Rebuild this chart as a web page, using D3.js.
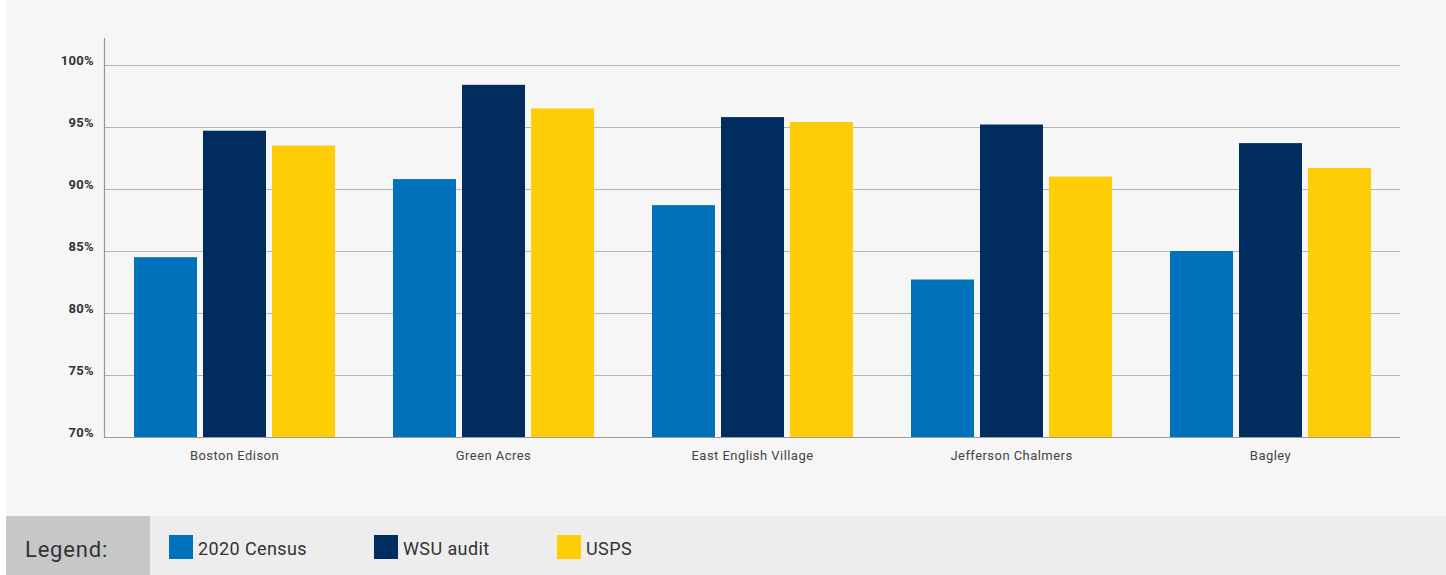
<!DOCTYPE html>
<html>
<head>
<meta charset="utf-8">
<script src="https://cdn.jsdelivr.net/npm/d3@7"></script>
<style>
  html, body { margin: 0; padding: 0; background: #ffffff; }
  svg { display: block; }
</style>
</head>
<body>
<svg id="chart" width="1446" height="575"></svg>
<script>
// Neighbourhood address coverage, by source
const neighbourhoods = ["Boston Edison", "Green Acres", "East English Village", "Jefferson Chalmers", "Bagley"];
const seriesNames = ["2020 Census", "WSU audit", "USPS"];
const census2020 = [84.5, 90.8, 88.7, 82.7, 85.0];
const wsuAudit   = [94.7, 98.4, 95.8, 95.2, 93.7];
const usps       = [93.5, 96.5, 95.4, 91.0, 91.7];
const yTicks = [70, 75, 80, 85, 90, 95, 100];
const seriesColors = ["#0072bb", "#002d5e", "#ffcd05"];

const seriesValues = [census2020, wsuAudit, usps];
const rows = neighbourhoods.map((name, i) => ({
  name,
  values: seriesNames.map((s, j) => ({ series: s, value: seriesValues[j][i], idx: j }))
}));

const svg = d3.select("#chart");
const W = 1446, H = 575;

// page backgrounds
svg.append("rect").attr("x", 6).attr("y", 0).attr("width", W - 6).attr("height", 516).attr("fill", "#f6f6f6");
svg.append("rect").attr("x", 6).attr("y", 516).attr("width", W - 6).attr("height", H - 516).attr("fill", "#ededed");
svg.append("rect").attr("x", 6).attr("y", 516).attr("width", 144).attr("height", H - 516).attr("fill", "#c6c7c9");

const plot = { left: 105, right: 1400, top: 65, bottom: 437 };

const y = d3.scaleLinear().domain([70, 100]).range([plot.bottom, plot.top]);
const x0 = d3.scaleBand().domain(neighbourhoods).range([plot.left, plot.right]).padding(0);
const x1 = d3.scaleBand().domain(seriesNames)
  .range([29, x0.bandwidth() - 29]).paddingInner(0.087).paddingOuter(0);

// horizontal gridlines
svg.append("g")
  .selectAll("line")
  .data(yTicks.filter(t => t > 70))
  .join("line")
  .attr("x1", plot.left).attr("x2", plot.right)
  .attr("y1", d => y(d) + 0.5).attr("y2", d => y(d) + 0.5)
  .attr("stroke", "#b5b5b5").attr("stroke-width", 1.2);

// y-axis labels, sitting just above their gridlines
const yAxis = d3.axisLeft(y).tickValues(yTicks).tickSize(0).tickPadding(11).tickFormat(d => d + "%");
const yg = svg.append("g").attr("transform", `translate(${plot.left},0)`).call(yAxis);
yg.select(".domain").remove();
yg.selectAll("text")
  .attr("dy", "0")
  .attr("y", -1)
  .attr("font-family", "Roboto, 'DejaVu Sans', sans-serif")
  .attr("font-size", 13).attr("font-weight", 700).attr("fill", "#333").attr("letter-spacing", 0.3);

// bars
const groups = svg.append("g")
  .selectAll("g")
  .data(rows)
  .join("g")
  .attr("transform", d => `translate(${x0(d.name)},0)`);

groups.selectAll("rect")
  .data(d => d.values)
  .join("rect")
  .attr("x", d => x1(d.series))
  .attr("width", x1.bandwidth())
  .attr("y", d => y(d.value))
  .attr("height", d => y(70) - y(d.value))
  .attr("fill", d => seriesColors[d.idx]);

// axis lines
svg.append("line")
  .attr("x1", plot.left - 0.5).attr("x2", plot.left - 0.5)
  .attr("y1", 38).attr("y2", plot.bottom + 0.5)
  .attr("stroke", "#9a9a9a").attr("stroke-width", 1.2);
svg.append("line")
  .attr("x1", plot.left - 1).attr("x2", plot.right)
  .attr("y1", plot.bottom + 0.5).attr("y2", plot.bottom + 0.5)
  .attr("stroke", "#9a9a9a").attr("stroke-width", 1.2);

// category labels
const xAxis = d3.axisBottom(x0).tickSize(0).tickPadding(14);
const xg = svg.append("g").attr("transform", `translate(0,${plot.bottom})`).call(xAxis);
xg.select(".domain").remove();
xg.selectAll("text")
  .attr("font-family", "Roboto, 'DejaVu Sans', sans-serif")
  .attr("font-size", 13).attr("fill", "#444").attr("letter-spacing", 0.45);

// legend
svg.append("text")
  .attr("x", 25).attr("y", 557)
  .attr("font-family", "Roboto, 'DejaVu Sans', sans-serif")
  .attr("font-size", 22).attr("fill", "#333").attr("letter-spacing", 0.8)
  .text("Legend:");

const legendX = [169, 374, 557];
const legend = svg.append("g")
  .selectAll("g")
  .data(seriesNames)
  .join("g")
  .attr("transform", (d, i) => `translate(${legendX[i]},535)`);
legend.append("rect").attr("width", 24).attr("height", 24).attr("fill", (d, i) => seriesColors[i]);
legend.append("text")
  .attr("x", 29).attr("y", 20)
  .attr("font-family", "Roboto, 'DejaVu Sans', sans-serif")
  .attr("font-size", 18).attr("fill", "#333").attr("letter-spacing", 0.4)
  .text(d => d);
</script>
</body>
</html>
